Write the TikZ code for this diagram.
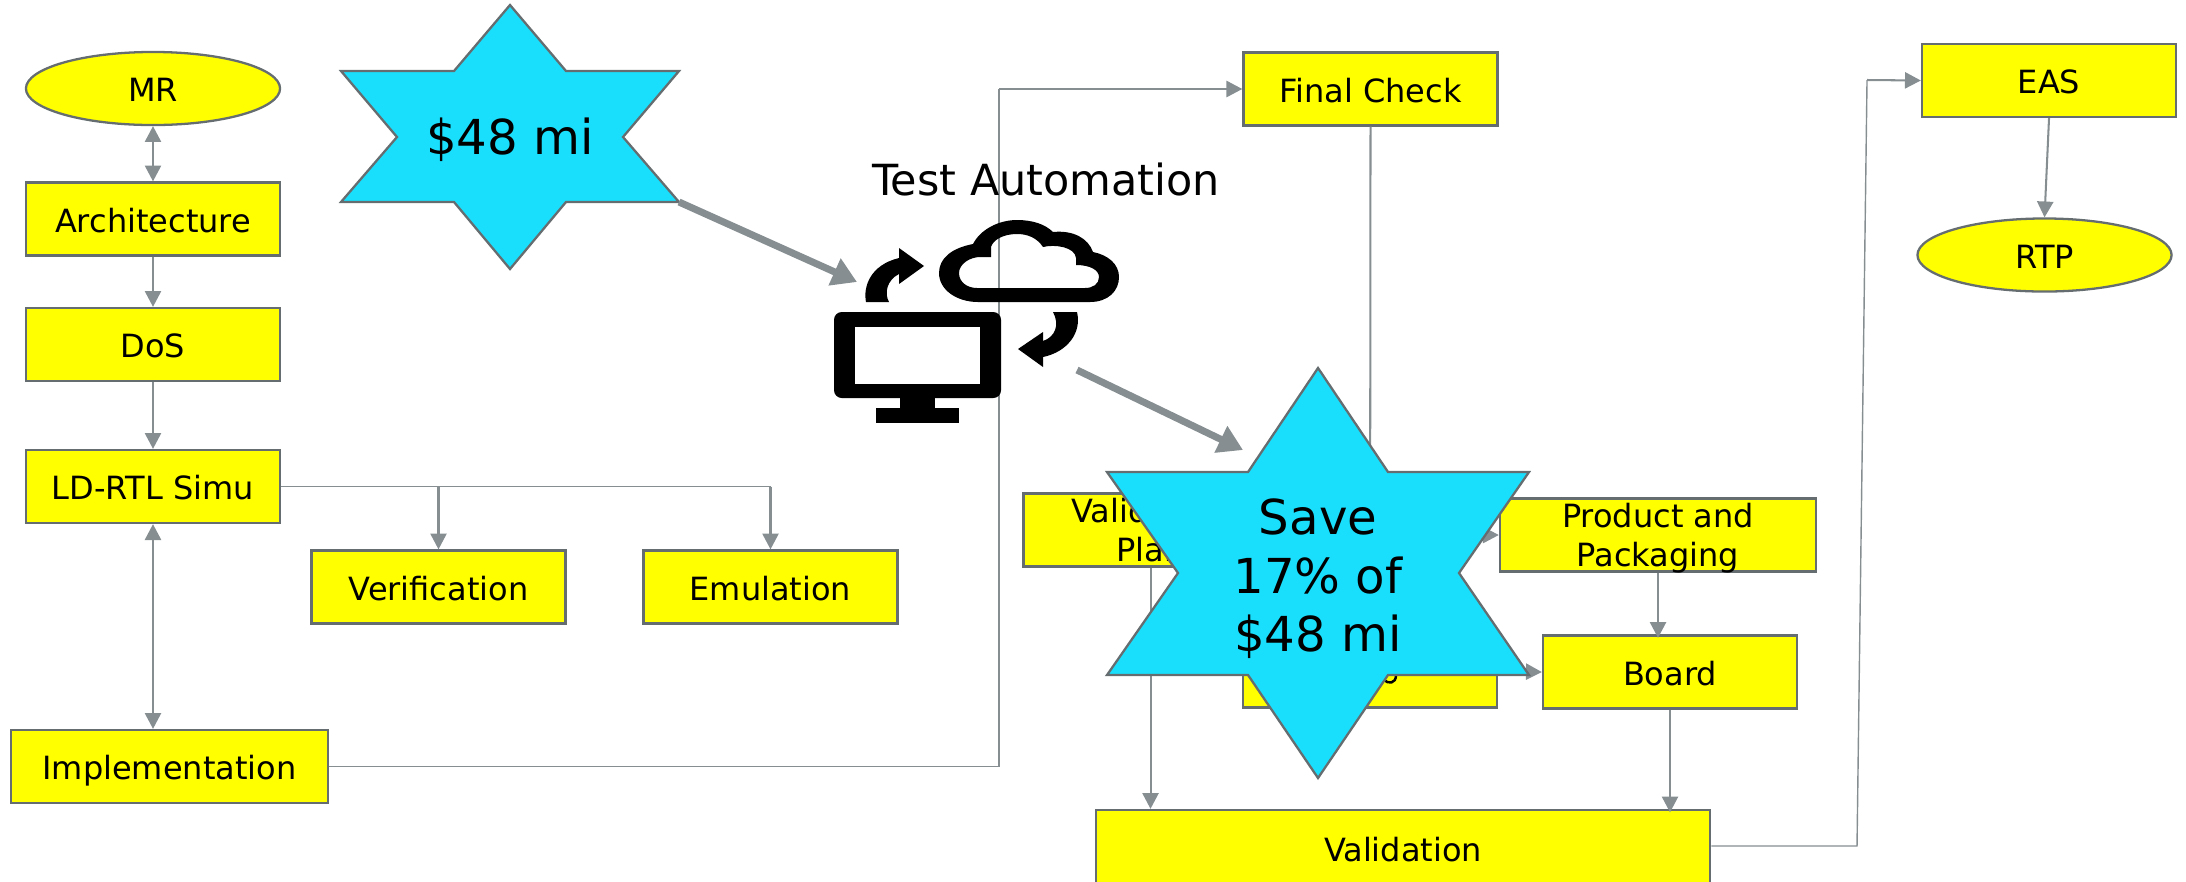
\documentclass[tikz,border=0pt]{standalone}
\usepackage{fontspec}
\setmainfont{DejaVu Sans}
\usetikzlibrary{arrows.meta,shapes.geometric,calc}
\definecolor{boxyellow}{rgb}{1.0, 1.0, 0.0}
\definecolor{starblue}{HTML}{1ADFFC}
\definecolor{edgegray}{HTML}{666D70}
\definecolor{linegray}{HTML}{868E91}

\tikzset{
	flowplain/.style={draw=edgegray, line width=0.65pt, fill=boxyellow, minimum width=2.54cm, minimum height=0.73cm, inner sep=0pt, align=center, font=\fontsize{9.1}{11}\selectfont},
	flowbox/.style={flowplain, text height=9.4pt, text depth=2pt},
	flowoval/.style={flowbox, ellipse},
	flowto/.style={draw=linegray, line width=0.58pt, -{Triangle[width=4.6pt,length=4.5pt]}},
	flowboth/.style={draw=linegray, line width=0.58pt, {Triangle[width=4.6pt,length=4.5pt]}-{Triangle[width=4.6pt,length=4.5pt]}},
	thinline/.style={draw=linegray, line width=0.4pt},
	bigarrow/.style={draw=linegray, line width=2pt, -{Triangle[width=8pt,length=7pt]}},
	startext/.style={align=center, inner sep=0pt, font=\fontsize{13.7}{16.6}\selectfont},
	starshape/.style={draw=edgegray, line width=0.65pt, fill=starblue}
}

\begin{document}
\begin{tikzpicture}[x=0.01cm, y=-0.01cm]
	\useasboundingbox (0,0) rectangle (2186,881);

	% Draw yellow boxes.
	\foreach \name/\x/\y/\txt in {arch/153/219/Architecture, dos/153/344.5/DoS, simu/153/486.5/LD-RTL Simu, veri/438.5/587/Verification, emul/770.5/587/Emulation, final/1370.5/89/Final Check, fab/1370/671/{}, board/1670/672/Board, eas/2049/80.5/EAS} {
		\node[flowbox] (\name) at (\x, \y) {\txt};
	}
	\node[flowbox, minimum width=3.17cm] (impl) at (169.5, 766.5) {Implementation};
	\node[flowbox, minimum width=6.14cm, minimum height=0.76cm] (vali) at (1403, 848) {Validation};
	\node[flowplain] (plan) at (1150.5, 530) {Validation\\Plan};
	\node[flowplain, minimum width=3.16cm] (prod) at (1658, 535) {Product and\\\smash{Packaging}};

	% Draw ovals.
	\node[flowoval] (mr) at (153, 88.5) {MR};
	\node[flowoval] (rtp) at (2044.5, 255) {RTP};

	% Draw free ends of the long lines.
	\coordinate (implUp) at (999, 766.5);
	\coordinate (implTop) at (999, 89);
	\coordinate (valiOut) at (1857, 846);
	\coordinate (valiTop) at (1867, 80);
	\coordinate (simuSplit) at (438.5, 486.5);
	\coordinate (simuEnd) at (770.5, 486.5);

	% Draw thin lines.
	\draw[thinline] (impl.east) -- (implUp) -- (implTop);
	\draw[thinline] (simu.east) -- (simuEnd);
	\draw[thinline] (vali.east |- valiOut) -- (valiOut) -- (valiTop);

	% Draw flow arrows.
	\draw[flowboth] (mr.south) -- (arch.north);
	\draw[flowto] (arch.south) -- (dos.north);
	\draw[flowto] (dos.south) -- (simu.north);
	\draw[flowboth] (simu.south) -- (simu.south |- impl.north);
	\draw[flowto] (simuSplit) -- (veri.north);
	\draw[flowto] (simuEnd) -- (emul.north);
	\draw[flowto] (implTop) -- (final.west);
	\draw[flowto] (valiTop) -- (eas.west);
	\draw[flowto] (eas.south) -- (rtp.north);
	\draw[flowto, -] (final.south) -- (fab.north);
	\draw[flowto] (plan.east |- prod.west) -- (prod.west);
	\draw[flowto] (fab.east) -- (board.west);
	\draw[flowto] (plan.south) -- (plan.south |- vali.north);
	\draw[flowto, shorten >=-1pt] (prod.south) -- (prod.south |- board.north);
	\draw[flowto, shorten >=-1pt] (board.south) -- (board.south |- vali.north);

	% Draw monitor.
	\fill[black, rounded corners=2.2pt] (834,312) rectangle (1001,398);
	\fill[white] (855,327) rectangle (980,384);
	\fill[black] (900,396) rectangle (935,408);
	\fill[black] (876,408) rectangle (959,423);

	% Draw cloud.
	\fill[black, even odd rule] (978,302) -- (1090,302)
		.. controls (1108,302) and (1119,291) .. (1119,277)
		.. controls (1119,264) and (1108,255) .. (1093,252)
		.. controls (1088,238) and (1073,230) .. (1053,232)
		.. controls (1045,224) and (1032,220) .. (1017,220)
		.. controls (998,220) and (980,230) .. (973,244)
		.. controls (952,248) and (939,258) .. (939,273)
		.. controls (939,290) and (957,302) .. (978,302) -- cycle
		(977,288) -- (1085,288)
		.. controls (1093,288) and (1099,284) .. (1099,277)
		.. controls (1099,270) and (1090,265) .. (1076,265) -- (1076,258)
		.. controls (1075,247) and (1055,244) .. (1043,247)
		.. controls (1037,238) and (1028,234) .. (1017,234)
		.. controls (1003,234) and (993,240) .. (991,247) -- (991,257) -- (980,257)
		.. controls (970,257) and (959,264) .. (959,273)
		.. controls (959,282) and (967,288) .. (977,288) -- cycle;

	% Draw curved arrows.
	\fill[black] (866,302) .. controls (863,287) and (870,265) .. (899,258) -- (899,248) -- (924,266) -- (899,284) -- (899,274) .. controls (887,280) and (884,293) .. (889,302) -- cycle;
	\fill[black] (1077,312) .. controls (1082,333) and (1067,352) .. (1043,357) -- (1043,367) -- (1018,349) -- (1043,332) -- (1043,341) .. controls (1055,337) and (1060,325) .. (1053,312) -- cycle;

	\node[startext, font=\fontsize{12.2}{14}\selectfont, anchor=base] (auto) at (1046,195) {Test Automation};

	% Re-draw the bit of lettering that shows below the star.
	\draw[black, line width=0.7pt] (1384,680) .. controls (1388,684) and (1396,684) .. (1396,675);

	% Draw stars.
	\draw[starshape] (510,5) -- (566,71) -- (679,71) -- (623,137) -- (679,202) -- (566,202) -- (510,269) -- (454,202) -- (341,202) -- (397,137) -- (341,71) -- (454,71) -- cycle;
	\node[startext] (budget) at (510,140) {\$48 mi};
	\coordinate (budgetTip) at (679,202);
	\coordinate (autoIn) at (857,282);
	\coordinate (autoOut) at (1077,370);
	\coordinate (saveTip) at (1243,450);
	\draw[bigarrow] (budgetTip) -- (autoIn);
	\draw[bigarrow] (autoOut) -- (saveTip);

	\draw[starshape] (1318,368) -- (1388,472) -- (1529,472) -- (1459,573) -- (1529,675) -- (1388,675) -- (1318,778) -- (1248,675) -- (1107,675) -- (1178,573) -- (1107,472) -- (1248,472) -- cycle;
	\node[startext] (save) at (1318,579) {Save\\17\% of\\\$48 mi};
\end{tikzpicture}
\end{document}
